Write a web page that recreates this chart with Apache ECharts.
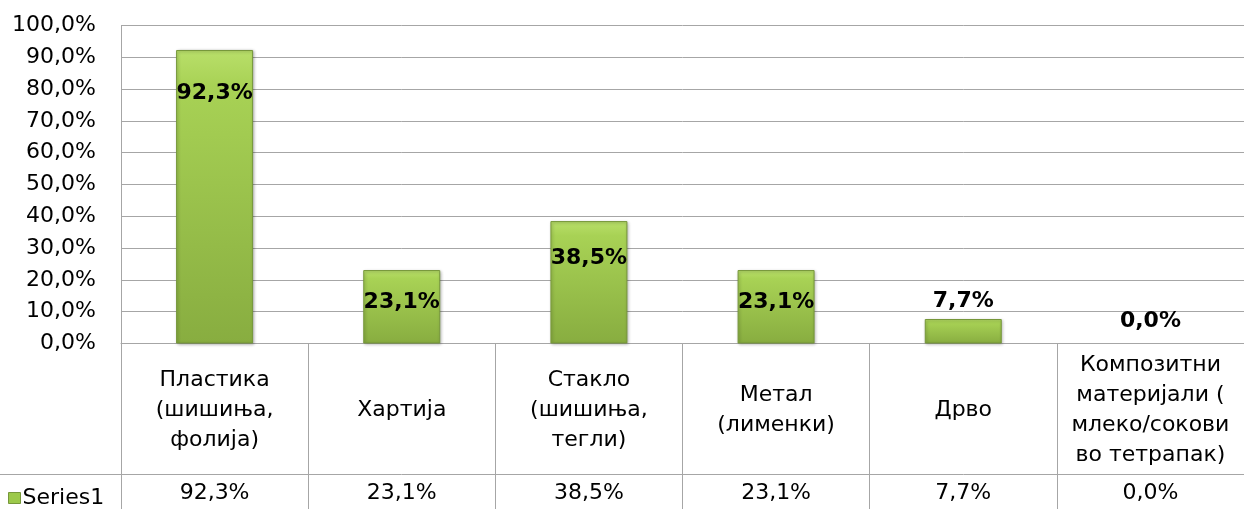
<!DOCTYPE html>
<html>
<head>
<meta charset="utf-8">
<script src="https://cdn.jsdelivr.net/npm/echarts@6/dist/echarts.min.js"></script>
<style>
  html, body { margin: 0; padding: 0; background: #fff; }
  #chart { width: 1244px; height: 509px; }
</style>
</head>
<body>
<div id="chart"></div>
<script>
// categories and values (percent)
var categories = [
  'Пластика\n(шишиња,\nфолија)',
  'Хартија',
  'Стакло\n(шишиња,\nтегли)',
  'Метал\n(лименки)',
  'Дрво',
  'Композитни\nматеријали (\nмлеко/сокови\nво тетрапак)'
];
var values = [92.3, 23.1, 38.5, 23.1, 7.7, 0.0];
var seriesName = 'Series1';
var yTicks = [0, 10, 20, 30, 40, 50, 60, 70, 80, 90, 100];

function fmt(v) {
  return v.toFixed(1).replace('.', ',') + '%';
}

var chart = echarts.init(document.getElementById('chart'));

var barColor = new echarts.graphic.LinearGradient(0, 0, 0, 1, [
  { offset: 0, color: '#b9df6a' },
  { offset: 0.12, color: '#a8d255' },
  { offset: 1, color: '#88ad40' }
]);

// label placement: inside near the top for tall bars, above for short ones
var insideDist = { 0: 32, 1: 21, 2: 26, 3: 21 };
var barData = values.map(function (v, i) {
  var item = { value: v };
  item.label = v >= 15
    ? { position: 'insideTop', distance: insideDist[i] }
    : { position: 'top', distance: v > 0 ? 7 : 11 };
  if (v === 0) {
    item.itemStyle = { color: 'transparent', borderColor: 'transparent', shadowColor: 'transparent' };
  }
  return item;
});

var gridLine = '#a6a6a6';
var font = '"DejaVu Sans", Arial, sans-serif';

chart.setOption({
  animation: false,
  backgroundColor: '#fff',
  grid: { left: 121, right: -10, top: 25.5, bottom: 165.5, containLabel: false },
  legend: {
    data: [seriesName],
    left: 3,
    top: 482,
    icon: 'rect',
    itemWidth: 12,
    itemHeight: 11,
    itemGap: 4,
    itemStyle: { color: '#9cc94a', borderColor: '#76973a', borderWidth: 1 },
    textStyle: { fontFamily: font, fontSize: 22, color: '#000', padding: [0, 0, 0, -3] }
  },
  xAxis: [
    {
      type: 'category',
      data: categories,
      position: 'bottom',
      axisLine: { show: true, lineStyle: { color: gridLine, width: 1 } },
      axisTick: { show: true, length: 170, alignWithLabel: false, lineStyle: { color: gridLine } },
      axisLabel: {
        interval: 0,
        margin: 67,
        verticalAlign: 'middle',
        fontFamily: font,
        fontSize: 22,
        lineHeight: 30,
        color: '#000'
      }
    },
    {
      type: 'category',
      data: values.map(fmt),
      position: 'bottom',
      offset: 130.5,
      axisLine: { show: true, lineStyle: { color: gridLine, width: 1 } },
      axisTick: { show: false },
      axisLabel: {
        interval: 0,
        margin: 19,
        verticalAlign: 'middle',
        fontFamily: font,
        fontSize: 22,
        color: '#000'
      }
    }
  ],
  yAxis: {
    type: 'value',
    min: yTicks[0],
    max: yTicks[yTicks.length - 1],
    interval: 10,
    axisLine: { show: true, lineStyle: { color: gridLine } },
    axisTick: { show: false },
    splitLine: { show: true, lineStyle: { color: gridLine, width: 1 } },
    axisLabel: {
      margin: 25,
      fontFamily: font,
      fontSize: 22,
      color: '#000',
      formatter: function (v) { return fmt(v); }
    }
  },
  graphic: [
    {
      type: 'line',
      shape: { x1: 0, y1: 474.5, x2: 121, y2: 474.5 },
      style: { stroke: gridLine, lineWidth: 1 }
    }
  ],
  series: [
    {
      name: seriesName,
      type: 'bar',
      xAxisIndex: 0,
      barWidth: 77,
      data: barData,
      itemStyle: {
        color: barColor,
        borderColor: '#76973a',
        borderWidth: 1,
        shadowColor: 'rgba(0,0,0,0.3)',
        shadowBlur: 3,
        shadowOffsetX: 1,
        shadowOffsetY: 1
      },
      label: {
        show: true,
        fontFamily: font,
        fontSize: 22,
        fontWeight: 'bold',
        color: '#000',
        formatter: function (p) { return fmt(p.value); }
      }
    }
  ]
});
</script>
</body>
</html>
